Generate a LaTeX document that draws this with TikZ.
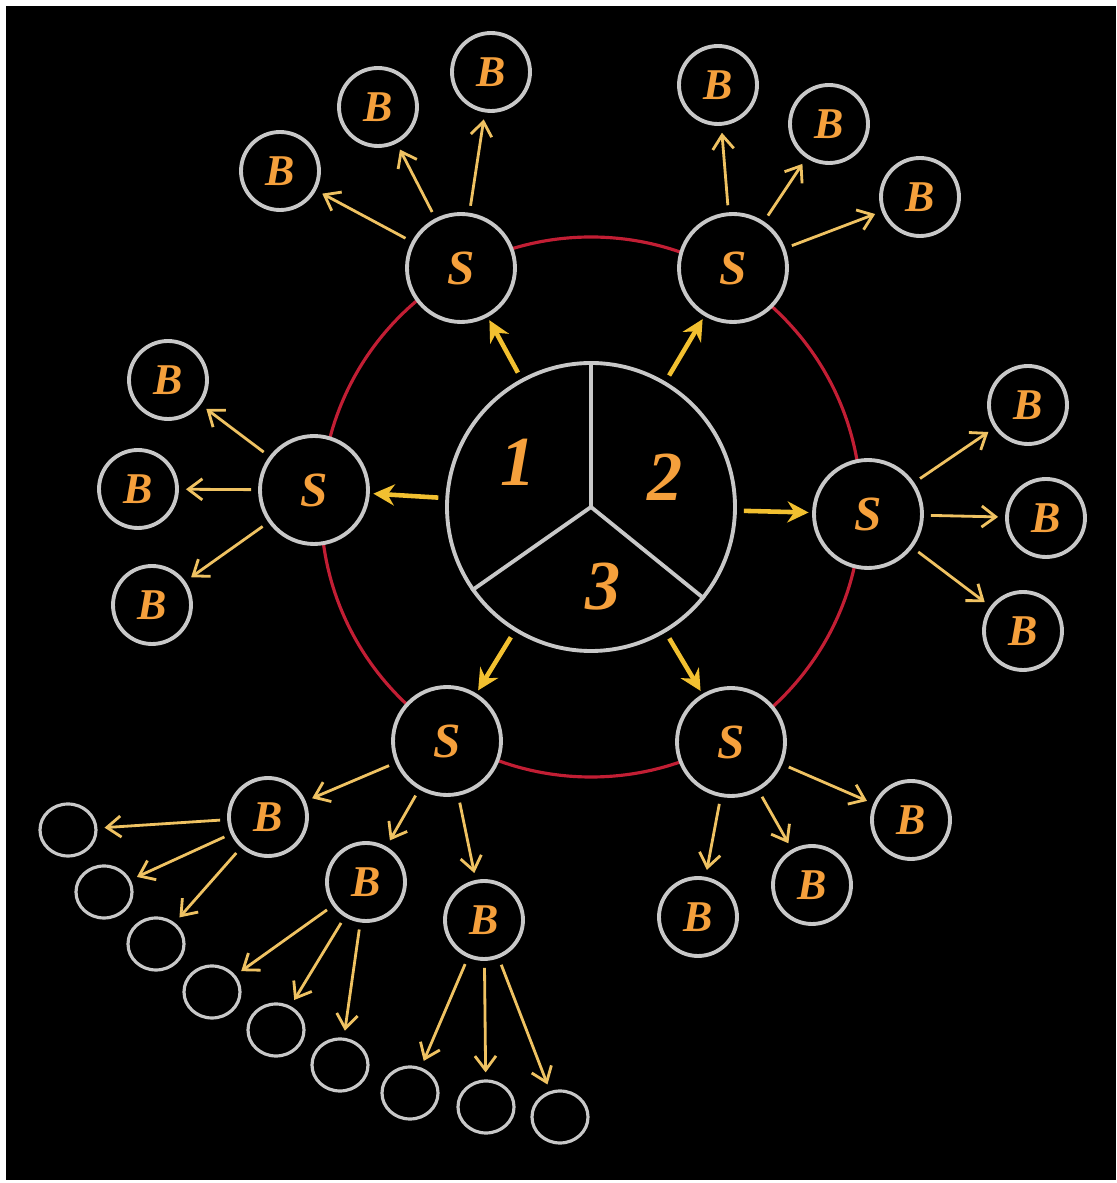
\documentclass[tikz,border=0pt]{standalone}
\usepackage{fontspec}
\setmainfont{Liberation Serif}
\usetikzlibrary{arrows.meta,shapes.geometric}
\definecolor{labelorange}{HTML}{F5A03C}
\definecolor{ringred}{HTML}{C21E34}
\definecolor{nodegray}{HTML}{C8C8C8}
\definecolor{arrowyellow}{HTML}{F2C030}
\definecolor{arrowpale}{HTML}{EFC262}
\tikzset{
    >={Straight Barb[length=4pt,width=6pt]},
    hub/.style={
        circle,
        draw=nodegray,
        line width=1.1pt,
        fill=black,
        minimum size=2.88cm,
        inner sep=0pt
    },
    snode/.style={
        circle,
        draw=nodegray,
        line width=1.1pt,
        fill=black,
        minimum size=1.08cm,
        inner sep=0pt,
        text=labelorange,
        font={\fontsize{14pt}{16pt}\selectfont\bfseries\itshape}
    },
    bnode/.style={
        circle,
        draw=nodegray,
        line width=1.1pt,
        fill=black,
        minimum size=0.78cm,
        inner sep=0pt,
        text=labelorange,
        font={\fontsize{12.5pt}{14pt}\selectfont\bfseries\itshape}
    },
    leaf/.style={
        ellipse,
        draw=nodegray,
        line width=0.9pt,
        minimum width=0.56cm,
        minimum height=0.52cm,
        inner sep=0pt
    },
    ring/.style={draw=ringred, line width=0.9pt},
    feed/.style={draw=arrowyellow, line width=1.3pt, -{Stealth[length=6pt,width=6pt]}, shorten <=2pt, shorten >=1pt},
    branch/.style={draw=arrowpale, line width=0.8pt, ->, shorten <=2pt, shorten >=2pt},
}

\begin{document}
\begin{tikzpicture}
\tikzstyle{digit} = [text=labelorange, font={\fontsize{20pt}{24pt}\selectfont\bfseries\itshape}]
\tikzstyle{divider} = [draw=nodegray, line width=1.1pt]

% Background
\fill[white] (0,0) rectangle (11.17,11.83);
\fill[black] (0.06,0.03) rectangle (11.16,11.77);
\useasboundingbox (0,0) rectangle (11.17,11.83);

% Red ring behind the S nodes
\coordinate (mid) at (5.91,6.76);
\draw[ring] (mid) circle (2.70);

% Hub
\node[hub] (hub) at (mid) {};
\draw[divider] (hub.center) -- (hub.90);
\draw[divider] (hub.center) -- (hub.215);
\draw[divider] (hub.center) -- (hub.-39);
\node[digit] (one) at (5.18,7.21) {1};
\node[digit] (two) at (6.65,7.06) {2};
\node[digit] (three) at (6.03,5.96) {3};

% S nodes
\node[snode] (s_nw) at (4.61,9.15) {S};
\node[snode] (s_ne) at (7.33,9.15) {S};
\node[snode] (s_w) at (3.14,6.93) {S};
\node[snode] (s_e) at (8.68,6.69) {S};
\node[snode] (s_sw) at (4.47,4.42) {S};
\node[snode] (s_se) at (7.31,4.41) {S};

% B nodes
\node[bnode] (b_nw1) at (2.80,10.12) {B};
\node[bnode] (b_nw2) at (3.78,10.76) {B};
\node[bnode] (b_nw3) at (4.91,11.11) {B};
\node[bnode] (b_ne1) at (7.18,10.98) {B};
\node[bnode] (b_ne2) at (8.29,10.59) {B};
\node[bnode] (b_ne3) at (9.20,9.86) {B};
\node[bnode] (b_w1) at (1.68,8.03) {B};
\node[bnode] (b_w2) at (1.38,6.94) {B};
\node[bnode] (b_w3) at (1.52,5.78) {B};
\node[bnode] (b_e1) at (10.28,7.78) {B};
\node[bnode] (b_e2) at (10.46,6.65) {B};
\node[bnode] (b_e3) at (10.23,5.52) {B};
\node[bnode] (b_se1) at (9.11,3.63) {B};
\node[bnode] (b_se2) at (8.12,2.98) {B};
\node[bnode] (b_se3) at (6.98,2.66) {B};
\node[bnode] (b_sw1) at (2.68,3.66) {B};
\node[bnode] (b_sw2) at (3.66,3.01) {B};
\node[bnode] (b_sw3) at (4.84,2.63) {B};

% Empty leaves
\node[leaf] (leaf1) at (0.68,3.53) {};
\node[leaf] (leaf2) at (1.04,2.91) {};
\node[leaf] (leaf3) at (1.56,2.39) {};
\node[leaf] (leaf4) at (2.12,1.91) {};
\node[leaf] (leaf5) at (2.76,1.53) {};
\node[leaf] (leaf6) at (3.40,1.18) {};
\node[leaf] (leaf7) at (4.10,0.90) {};
\node[leaf] (leaf8) at (4.86,0.76) {};
\node[leaf] (leaf9) at (5.60,0.66) {};

% Hub to S
\draw[feed] (hub) -- (s_nw);
\draw[feed] (hub) -- (s_ne);
\draw[feed] (hub) -- (s_w);
\draw[feed] (hub) -- (s_e);
\draw[feed] (hub) -- (s_sw);
\draw[feed] (hub) -- (s_se);

% S to B
\draw[branch] (s_nw) -- (b_nw1);
\draw[branch] (s_nw) -- (b_nw2);
\draw[branch] (s_nw) -- (b_nw3);
\draw[branch] (s_ne) -- (b_ne1);
\draw[branch] (s_ne) -- (b_ne2);
\draw[branch] (s_ne) -- (b_ne3);
\draw[branch] (s_w) -- (b_w1);
\draw[branch] (s_w) -- (b_w2);
\draw[branch] (s_w) -- (b_w3);
\draw[branch] (s_e) -- (b_e1);
\draw[branch] (s_e) -- (b_e2);
\draw[branch] (s_e) -- (b_e3);
\draw[branch] (s_se) -- (b_se1);
\draw[branch] (s_se) -- (b_se2);
\draw[branch] (s_se) -- (b_se3);
\draw[branch] (s_sw) -- (b_sw1);
\draw[branch] (s_sw) -- (b_sw2);
\draw[branch] (s_sw) -- (b_sw3);

% B to leaves
\draw[branch] (b_sw1) -- (leaf1);
\draw[branch] (b_sw1) -- (leaf2);
\draw[branch] (b_sw1) -- (leaf3);
\draw[branch] (b_sw2) -- (leaf4);
\draw[branch] (b_sw2) -- (leaf5);
\draw[branch] (b_sw2) -- (leaf6);
\draw[branch] (b_sw3) -- (leaf7);
\draw[branch] (b_sw3) -- (leaf8);
\draw[branch] (b_sw3) -- (leaf9);
\end{tikzpicture}
\end{document}
